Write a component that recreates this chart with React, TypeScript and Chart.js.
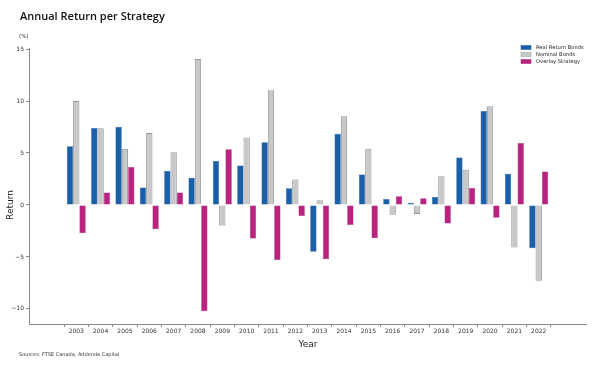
import React, { useEffect, useRef } from "react";
import { Chart, registerables } from "chart.js";

Chart.register(...registerables);

const years = [2003, 2004, 2005, 2006, 2007, 2008, 2009, 2010, 2011, 2012, 2013, 2014, 2015, 2016, 2017, 2018, 2019, 2020, 2021, 2022];
const realReturn = [5.64, 7.4, 7.53, 1.67, 3.27, 2.63, 4.23, 3.79, 6.03, 1.6, -4.49, 6.86, 2.92, 0.58, 0.22, 0.77, 4.56, 9.04, 3.01, -4.17];
const nominal = [10.0, 7.38, 5.42, 6.92, 5.07, 14.04, -1.98, 6.48, 11.03, 2.44, 0.45, 8.53, 5.42, -0.93, -0.86, 2.76, 3.4, 9.49, -4.1, -7.3];
const overlay = [-2.72, 1.19, 3.65, -2.34, 1.19, -10.22, 5.36, -3.23, -5.29, -1.06, -5.22, -1.92, -3.2, 0.83, 0.64, -1.79, 1.64, -1.22, 5.97, 3.21];
const seriesNames = ["Real Return Bonds", "Nominal Bonds", "Overlay Strategy"];
const yTicks = [-10, -5, 0, 5, 10, 15];

const colors = ["#1c5fa9", "#c8c8c8", "#b7237f"];
const borders = ["#1a569a", "#979797", "#a81f74"];

export default function App() {
  const ref = useRef<HTMLCanvasElement>(null);
  useEffect(() => {
    document.body.style.margin = "0";
    const canvas = ref.current!;
    const series = [realReturn, nominal, overlay];
    const font = "'DejaVu Sans', sans-serif";
    const decor = {
      id: "decor",
      afterDraw(chart: any) {
        const ctx = chart.ctx;
        ctx.save();
        ctx.fillStyle = "#111";
        ctx.textBaseline = "middle";
        ctx.textAlign = "left";
        ctx.font = `600 11px 'Open Sans', sans-serif`;
        ctx.fillText("Annual Return per Strategy", 20, 17);
        ctx.fillStyle = "#333";
        ctx.font = `5.5px ${font}`;
        ctx.fillText("(%)", 19, 37);
        ctx.font = `5px ${font}`;
        ctx.fillText("Sources: FTSE Canada, Addenda Capital", 19, 355);
        ctx.fillStyle = "#222";
        ctx.font = `9px ${font}`;
        ctx.textAlign = "center";
        ctx.fillText("Year", 308, 345);
        ctx.save();
        ctx.translate(11, 205);
        ctx.rotate(-Math.PI / 2);
        ctx.fillText("Return", 0, 0);
        ctx.restore();
        // legend
        ctx.textAlign = "left";
        ctx.font = `5.2px ${font}`;
        seriesNames.forEach((n, i) => {
          const y = 47.5 + i * 7;
          ctx.fillStyle = colors[i];
          ctx.fillRect(521, y - 2, 10, 4);
          ctx.strokeStyle = borders[i];
          ctx.lineWidth = 0.5;
          ctx.strokeRect(521, y - 2, 10, 4);
          ctx.fillStyle = "#222";
          ctx.fillText(n, 536, y);
        });
        ctx.restore();
      },
    };
    const chart = new Chart(canvas, {
      type: "bar",
      data: {
        datasets: series.map((s, i) => ({
          label: seriesNames[i],
          data: s.map((v, j) => ({ x: years[j], y: v })),
          backgroundColor: colors[i],
          borderColor: borders[i],
          borderWidth: i === 1 ? 1 : 0.5,
          categoryPercentage: 0.78,
          barPercentage: 1,
        })),
      },
      options: {
        animation: false,
        responsive: false,
        layout: { padding: { left: 0, top: 48, right: 9, bottom: 0 } },
        plugins: { legend: { display: false }, title: { display: false }, tooltip: { enabled: false } },
        scales: {
          x: {
            type: "linear",
            min: 2001.63,
            max: 2023.37,
            afterBuildTicks: (scale: any) => {
              scale.ticks = years.map((y) => ({ value: y }));
            },
            afterFit: (scale: any) => {
              scale.height = 41;
            },
            ticks: {
              autoSkip: false,
              maxRotation: 0,
              font: { family: font, size: 6 },
              color: "#333",
              padding: 1,
              callback: (v: any) => String(v),
            },
            grid: { drawOnChartArea: false, drawTicks: true, tickLength: 3, color: "#888" },
            border: { display: true, color: "#888", width: 1 },
          },
          y: {
            min: -11.45,
            max: 15.1,
            afterBuildTicks: (scale: any) => {
              scale.ticks = yTicks.map((v) => ({ value: v }));
            },
            afterFit: (scale: any) => {
              scale.width = 29;
            },
            ticks: {
              font: { family: font, size: 6 },
              color: "#333",
              padding: 2,
              callback: (v: any) => String(v).replace("-", "\u2212"),
            },
            grid: { drawOnChartArea: false, drawTicks: true, tickLength: 3, color: "#888" },
            border: { display: true, color: "#888", width: 1 },
          },
        },
      },
      plugins: [decor],
    });
    return () => chart.destroy();
  }, []);
  return <canvas ref={ref} width={595} height={365} style={{ display: "block", background: "#fff" }} />;
}
